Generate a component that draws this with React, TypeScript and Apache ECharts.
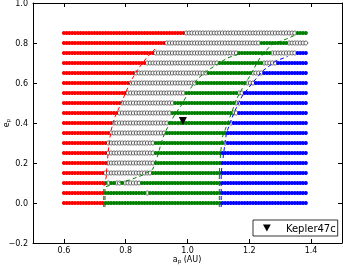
import React, { useEffect, useRef } from "react";
import * as echarts from "echarts";

// eccentricity rows of the simulated grid
const E_ROWS = [0.85, 0.8, 0.75, 0.7, 0.65, 0.6, 0.55, 0.5, 0.45, 0.4, 0.35, 0.3, 0.25, 0.2, 0.15, 0.1, 0.05, 0.0];

// semi-major axis grid of the simulations
const A_START = 0.6;
const A_STEP = 0.009;
const A_COUNT = 88;

// classification segments per row: [class, upper a bound]
// r = red, w = open circle, g = green, b = blue
const ROW_SEGMENTS: [string, number][][] = [
  [["r", 0.99], ["w", 1.352], ["g", 9]],
  [["r", 0.932], ["w", 1.232], ["g", 1.32], ["w", 9]],
  [["r", 0.892], ["w", 1.16], ["g", 1.27], ["w", 1.352], ["b", 9]],
  [["r", 0.862], ["w", 1.1], ["g", 1.24], ["w", 1.285], ["b", 9]],
  [["r", 0.83], ["w", 1.06], ["g", 1.21], ["w", 1.243], ["b", 9]],
  [["r", 0.812], ["w", 1.024], ["g", 1.185], ["w", 1.212], ["b", 9]],
  [["r", 0.8], ["w", 0.993], ["g", 1.165], ["w", 1.18], ["b", 9]],
  [["r", 0.783], ["w", 0.953], ["g", 1.155], ["w", 1.17], ["b", 9]],
  [["r", 0.772], ["w", 0.944], ["g", 1.148], ["w", 1.165], ["b", 9]],
  [["r", 0.76], ["w", 0.937], ["g", 1.138], ["w", 1.145], ["b", 9]],
  [["r", 0.752], ["w", 0.926], ["g", 1.122], ["w", 1.128], ["b", 9]],
  [["r", 0.742], ["w", 0.894], ["g", 1.115], ["w", 1.122], ["b", 9]],
  [["r", 0.742], ["w", 0.894], ["g", 1.112], ["b", 9]],
  [["r", 0.737], ["w", 0.894], ["g", 1.112], ["b", 9]],
  [["r", 0.73], ["w", 0.885], ["g", 1.108], ["b", 9]],
  [["r", 0.73], ["g", 0.74], ["w", 0.746], ["g", 0.77], ["w", 0.785], ["g", 0.792], ["w", 0.85], ["g", 1.106], ["b", 9]],
  [["r", 0.73], ["g", 0.862], ["w", 0.87], ["g", 1.106], ["b", 9]],
  [["r", 0.73], ["g", 1.106], ["b", 9]],
];

// boundary curves [a, e]
const RED_CURVE: [number, number][] = [
  [0.729, -0.02], [0.729, 0.08], [0.737, 0.13], [0.74, 0.2], [0.745, 0.28], [0.752, 0.36],
  [0.765, 0.43], [0.79, 0.515], [0.813, 0.6], [0.84, 0.67], [0.868, 0.727], [0.895, 0.77],
];
const GREEN_LEFT_CURVE: [number, number][] = [
  [0.733, -0.02], [0.733, 0.08], [0.77, 0.1], [0.813, 0.115], [0.856, 0.14], [0.888, 0.17],
  [0.904, 0.24], [0.915, 0.3], [0.926, 0.35], [0.958, 0.44], [0.985, 0.5], [1.006, 0.565],
  [1.032, 0.62], [1.06, 0.657], [1.093, 0.69], [1.129, 0.725], [1.189, 0.757],
];
const GREEN_RIGHT_CURVE: [number, number][] = [
  [1.103, -0.02], [1.103, 0.15], [1.107, 0.25], [1.113, 0.33], [1.13, 0.4], [1.146, 0.465],
  [1.157, 0.515], [1.178, 0.575], [1.2, 0.63], [1.232, 0.72], [1.27, 0.79], [1.32, 0.82], [1.361, 0.848],
];
const BLUE_CURVE: [number, number][] = [
  [1.109, -0.02], [1.109, 0.15], [1.117, 0.25], [1.126, 0.35], [1.15, 0.45], [1.175, 0.53],
  [1.21, 0.6], [1.243, 0.66], [1.286, 0.71], [1.324, 0.733],
];

const KEPLER_47C: [number, number][] = [[0.985, 0.41]];

const X_TICKS = [0.6, 0.8, 1.0, 1.2, 1.4];

function buildPoints() {
  const out: Record<string, [number, number][]> = { r: [], w: [], g: [], b: [] };
  E_ROWS.forEach((e, ri) => {
    const segs = ROW_SEGMENTS[ri];
    for (let i = 0; i < A_COUNT; i++) {
      const a = +(A_START + i * A_STEP).toFixed(4);
      const seg = segs.find((s) => a <= s[1]) || segs[segs.length - 1];
      out[seg[0]].push([a, e]);
    }
  });
  return out;
}

export default function App() {
  const ref = useRef<HTMLDivElement>(null);
  useEffect(() => {
    if (!ref.current) return;
    const chart = echarts.init(ref.current, null, { renderer: "svg" });
    const pts = buildPoints();
    const font = "DejaVu Sans";
    const dot = (name: string, data: [number, number][], color: string, border?: string) => ({
      type: "scatter",
      name,
      data,
      symbol: "circle",
      symbolSize: 4,
      silent: true,
      itemStyle: border
        ? { color, borderColor: border, borderWidth: 0.6, opacity: 1 }
        : { color, opacity: 1 },
      z: 2,
    });
    const dashed = (data: [number, number][], color: string) => ({
      type: "line",
      data,
      symbol: "none",
      silent: true,
      lineStyle: { color, width: 1, type: [4, 3] },
      z: 3,
    });
    const fmtY = (v: number) => (v < 0 ? "\u2212" : "") + Math.abs(v).toFixed(1);
    const rich = {
      a: { fontSize: 8, lineHeight: 9, fill: "#000", fontFamily: font, verticalAlign: "middle" },
      s: { fontSize: 5.5, lineHeight: 5, fill: "#000", fontFamily: font, verticalAlign: "bottom" },
    };
    chart.setOption({
      animation: false,
      textStyle: { fontFamily: font },
      grid: { left: 33, right: 1, top: 3, bottom: 23, containLabel: false, outerBoundsMode: "none" },
      legend: {
        data: [{ name: "Kepler47c", icon: "path://M0,0L10,0L5,9Z" }],
        left: 253,
        top: 220,
        padding: [3, 2, 3, 10],
        itemWidth: 8,
        itemHeight: 7,
        borderColor: "#000",
        borderWidth: 0.8,
        borderRadius: 0,
        backgroundColor: "#fff",
        selectedMode: false,
        textStyle: { fontSize: 10, color: "#000", fontFamily: font, padding: [0, 0, 0, 10] },
      },
      graphic: [
        {
          type: "text",
          x: 187,
          y: 259,
          silent: true,
          style: { text: "{a|a}{s|p}{a| (AU)}", rich, align: "center", verticalAlign: "middle" },
        },
        {
          type: "text",
          x: 6,
          y: 123,
          rotation: Math.PI / 2,
          silent: true,
          style: { text: "{a|e}{s|p}", rich, align: "center", verticalAlign: "middle" },
        },
      ],
      xAxis: [
        {
          type: "value",
          min: 0.5,
          max: 1.5,
          axisLine: { show: true, onZero: false, lineStyle: { color: "#000", width: 1 } },
          axisTick: { show: true, inside: true, length: 4, customValues: X_TICKS, lineStyle: { color: "#000" } },
          axisLabel: {
            show: true,
            customValues: X_TICKS,
            fontSize: 8,
            lineHeight: 8,
            color: "#000",
            margin: 3,
            formatter: (v: number) => v.toFixed(1),
          },
          splitLine: { show: false },
        },
        {
          type: "value",
          position: "top",
          min: 0.5,
          max: 1.5,
          axisLine: { show: true, onZero: false, lineStyle: { color: "#000", width: 1 } },
          axisTick: { show: true, inside: true, length: 4, customValues: X_TICKS, lineStyle: { color: "#000" } },
          axisLabel: { show: false },
          splitLine: { show: false },
        },
      ],
      yAxis: [
        {
          type: "value",
          min: -0.2,
          max: 1.0,
          interval: 0.2,
          axisLine: { show: true, onZero: false, lineStyle: { color: "#000", width: 1 } },
          axisTick: { show: true, inside: true, length: 4, lineStyle: { color: "#000" } },
          axisLabel: { fontSize: 8, color: "#000", margin: 5, formatter: fmtY },
          splitLine: { show: false },
        },
        {
          type: "value",
          position: "right",
          min: -0.2,
          max: 1.0,
          interval: 0.2,
          axisLine: { show: true, onZero: false, lineStyle: { color: "#000", width: 1 } },
          axisTick: { show: true, inside: true, length: 4, lineStyle: { color: "#000" } },
          axisLabel: { show: false },
          splitLine: { show: false },
        },
      ],
      series: [
        dot("red", pts.r, "#ff0000"),
        dot("open", pts.w, "#ffffff", "#000000"),
        dot("green", pts.g, "#008000"),
        dot("blue", pts.b, "#0000ff"),
        dashed(RED_CURVE, "#ff0000"),
        dashed(GREEN_LEFT_CURVE, "#008000"),
        dashed(GREEN_RIGHT_CURVE, "#008000"),
        dashed(BLUE_CURVE, "#0000ff"),
        {
          type: "scatter",
          name: "Kepler47c",
          data: KEPLER_47C,
          symbol: "triangle",
          symbolRotate: 180,
          symbolSize: 8,
          itemStyle: { color: "#000", opacity: 1 },
          z: 5,
        },
      ],
    });
    return () => chart.dispose();
  }, []);
  return <div ref={ref} style={{ position: "fixed", left: 0, top: 0, width: 343, height: 266 }} />;
}
